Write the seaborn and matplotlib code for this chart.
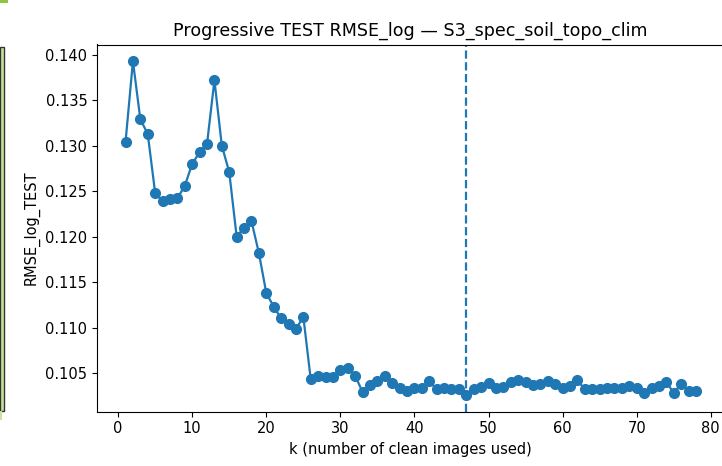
import numpy as np
import pandas as pd
import matplotlib
matplotlib.use("Agg")
import matplotlib.pyplot as plt
from matplotlib.patches import Rectangle
import seaborn as sns

# k degerleri ve test RMSE_log
k_values = list(range(1, 79))
rmse_log_test = [
    0.1304, 0.1393, 0.1329, 0.1313, 0.1248, 0.1239, 0.1241, 0.1242, 0.1256, 0.1280,
    0.1293, 0.1302, 0.1372, 0.1300, 0.1271, 0.1200, 0.1210, 0.1217, 0.1182, 0.1138,
    0.1123, 0.1110, 0.1104, 0.1098, 0.1112, 0.1043, 0.1047, 0.1046, 0.1046, 0.1053,
    0.1055, 0.1047, 0.1029, 0.1037, 0.1041, 0.1047, 0.1039, 0.1034, 0.1030, 0.1034,
    0.1034, 0.1041, 0.1032, 0.1034, 0.1032, 0.1032, 0.1026, 0.1032, 0.1035, 0.1039,
    0.1033, 0.1035, 0.1040, 0.1042, 0.1040, 0.1037, 0.1038, 0.1041, 0.1038, 0.1034,
    0.1036, 0.1042, 0.1032, 0.1032, 0.1032, 0.1033, 0.1033, 0.1034, 0.1036, 0.1034,
    0.1028, 0.1034, 0.1036, 0.1040, 0.1028, 0.1038, 0.1030, 0.1030,
]
best_k = 47

title = "Progressive TEST RMSE_log \u2014 S3_spec_soil_topo_clim"
x_label = "k (number of clean images used)"
y_label = "RMSE_log_TEST"

df = pd.DataFrame({"k": k_values, "rmse": rmse_log_test})

renk = "#1f77b4"
W, H = 722, 466
fig = plt.figure(figsize=(W / 100, H / 100), dpi=100)
# eksen sag tarafta kirpilmis gibi (ekran goruntusu)
fig.subplots_adjust(left=97 / W, right=724.5 / W, top=1 - 44.5 / H, bottom=1 - 411.5 / H)
ax = fig.add_subplot(111)

sns.lineplot(data=df, x="k", y="rmse", ax=ax, color=renk, marker="o",
             markersize=7, markeredgecolor=renk, markeredgewidth=1,
             linewidth=1.6)
ax.axvline(best_k, color=renk, linestyle="--", linewidth=1.6)

ax.set_title(title, fontsize=12.6)
ax.set_xlabel(x_label, fontsize=10.5)
ax.set_ylabel(y_label, fontsize=10.5)
ax.set_xticks(range(0, 81, 10))
ax.set_yticks(np.arange(0.105, 0.1401, 0.005))
ax.tick_params(labelsize=10.5)

# sol kenardaki yesil cerceve parcasi
fig.patches.append(Rectangle((0, 1 - 411 / H), 4 / W, 364 / H, transform=fig.transFigure,
                             facecolor="#c8e39a", edgecolor="#333333", linewidth=1))
fig.patches.append(Rectangle((0, 1 - 2.5 / H), 8 / W, 2.5 / H, transform=fig.transFigure,
                             facecolor="#8dc63f", edgecolor="none"))
fig.patches.append(Rectangle((0, 1 - 420 / H), 2 / W, 9 / H, transform=fig.transFigure,
                             facecolor="#c8e39a", edgecolor="none"))

fig.savefig("out.png", dpi=100)
